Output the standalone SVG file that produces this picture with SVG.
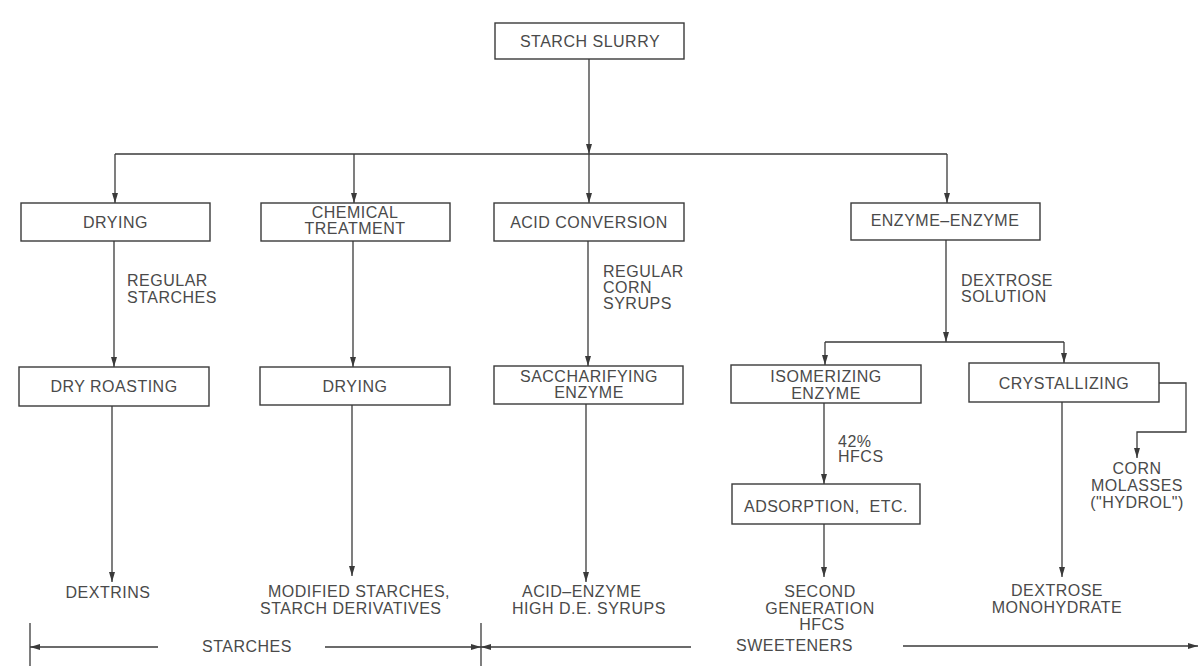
<svg xmlns="http://www.w3.org/2000/svg" width="1200" height="666" viewBox="0 0 1200 666">
<style>
  .box { fill: #ffffff; stroke: #3a3a3a; stroke-width: 1.4; }
  .t { font-family: "Liberation Sans", Arial, sans-serif; font-size: 16px; fill: #4a4a4a; letter-spacing: 0.5px; }
  .c { text-anchor: middle; }
  .ln { fill: none; stroke: #3a3a3a; stroke-width: 1.3; }
  .ar { fill: none; stroke: #3a3a3a; stroke-width: 1.3; marker-end: url(#ah); }
</style>
<defs>
  <marker id="ah" markerUnits="userSpaceOnUse" markerWidth="10" markerHeight="7" refX="10" refY="3.5" orient="auto">
    <path d="M0,0.5 L10,3.5 L0,6.5 Z" fill="#3a3a3a"/>
  </marker>
</defs>
<rect width="1200" height="666" fill="#ffffff"/>

<g id="connectors">
  <path class="ar" d="M589,59 V154"/>
  <path class="ln" d="M115,154 H947"/>
  <path class="ar" d="M115,154 V203"/>
  <path class="ar" d="M354,154 V203"/>
  <path class="ar" d="M589,154 V203"/>
  <path class="ar" d="M947,154 V203"/>
  <path class="ar" d="M114,241 V367"/>
  <path class="ar" d="M112,406 V582"/>
  <path class="ar" d="M353,241 V367"/>
  <path class="ar" d="M352,405 V576"/>
  <path class="ar" d="M588,241 V366"/>
  <path class="ar" d="M586,404 V582"/>
  <path class="ar" d="M946,240 V342"/>
  <path class="ln" d="M825,342 H1064"/>
  <path class="ar" d="M825,342 V365"/>
  <path class="ar" d="M1064,342 V363"/>
  <path class="ar" d="M824,403 V484"/>
  <path class="ar" d="M824,524 V577"/>
  <path class="ar" d="M1062,402 V577"/>
  <path class="ar" d="M1159,383 H1186 V432 H1137 V458"/>
  <path class="ln" d="M30,623 V666"/>
  <path class="ln" d="M481,623 V666"/>
  <path class="ar" d="M158,647 H30"/>
  <path class="ar" d="M325,647 H481"/>
  <path class="ar" d="M691,647 H481"/>
  <path class="ar" d="M903,646 H1198"/>
</g>

<g id="starch-slurry">
  <rect class="box" x="495" y="23" width="189" height="36"/>
  <text class="t c" x="590" y="47">STARCH SLURRY</text>
</g>
<g id="drying1">
  <rect class="box" x="21" y="203" width="189" height="38"/>
  <text class="t c" x="115.5" y="228">DRYING</text>
</g>
<g id="chemical-treatment">
  <rect class="box" x="261" y="203" width="189" height="38"/>
  <text class="t c" x="355" y="218">CHEMICAL</text>
  <text class="t c" x="355" y="234">TREATMENT</text>
</g>
<g id="acid-conversion">
  <rect class="box" x="494" y="203" width="190" height="38"/>
  <text class="t c" x="589" y="228">ACID CONVERSION</text>
</g>
<g id="enzyme-enzyme">
  <rect class="box" x="851" y="203" width="189" height="37"/>
  <text class="t c" x="945" y="226">ENZYME–ENZYME</text>
</g>
<g id="dry-roasting">
  <rect class="box" x="19" y="367" width="190" height="39"/>
  <text class="t c" x="114" y="392">DRY ROASTING</text>
</g>
<g id="drying2">
  <rect class="box" x="260" y="367" width="190" height="38"/>
  <text class="t c" x="355" y="392">DRYING</text>
</g>
<g id="saccharifying-enzyme">
  <rect class="box" x="494" y="366" width="189" height="38"/>
  <text class="t c" x="589" y="382">SACCHARIFYING</text>
  <text class="t c" x="589" y="398">ENZYME</text>
</g>
<g id="isomerizing-enzyme">
  <rect class="box" x="731" y="365" width="190" height="38"/>
  <text class="t c" x="826" y="382">ISOMERIZING</text>
  <text class="t c" x="826" y="399">ENZYME</text>
</g>
<g id="crystallizing">
  <rect class="box" x="969" y="363" width="190" height="39"/>
  <text class="t c" x="1064" y="389">CRYSTALLIZING</text>
</g>
<g id="adsorption">
  <rect class="box" x="732" y="484" width="188" height="40"/>
  <text class="t c" x="826" y="512">ADSORPTION,&#160;&#160;ETC.</text>
</g>

<g id="labels">
  <text class="t" x="127" y="286">REGULAR</text>
  <text class="t" x="127" y="303">STARCHES</text>
  <text class="t" x="603" y="277">REGULAR</text>
  <text class="t" x="603" y="293">CORN</text>
  <text class="t" x="603" y="309">SYRUPS</text>
  <text class="t" x="961" y="286">DEXTROSE</text>
  <text class="t" x="961" y="302">SOLUTION</text>
  <text class="t" x="838" y="447">42%</text>
  <text class="t" x="838" y="462">HFCS</text>
  <text class="t c" x="1137" y="474">CORN</text>
  <text class="t c" x="1137" y="491">MOLASSES</text>
  <text class="t c" x="1137" y="508">("HYDROL")</text>
</g>

<g id="products">
  <text class="t c" x="108" y="598">DEXTRINS</text>
  <text class="t" x="268" y="597">MODIFIED STARCHES,</text>
  <text class="t" x="260" y="614">STARCH DERIVATIVES</text>
  <text class="t" x="522" y="597">ACID–ENZYME</text>
  <text class="t" x="512" y="614">HIGH D.E. SYRUPS</text>
  <text class="t c" x="820" y="597">SECOND</text>
  <text class="t c" x="820" y="614">GENERATION</text>
  <text class="t c" x="822" y="630">HFCS</text>
  <text class="t c" x="1057" y="596">DEXTROSE</text>
  <text class="t c" x="1057" y="613">MONOHYDRATE</text>
</g>

<g id="scale-labels">
  <text class="t" x="202" y="652">STARCHES</text>
  <text class="t" x="736" y="651">SWEETENERS</text>
</g>
</svg>
